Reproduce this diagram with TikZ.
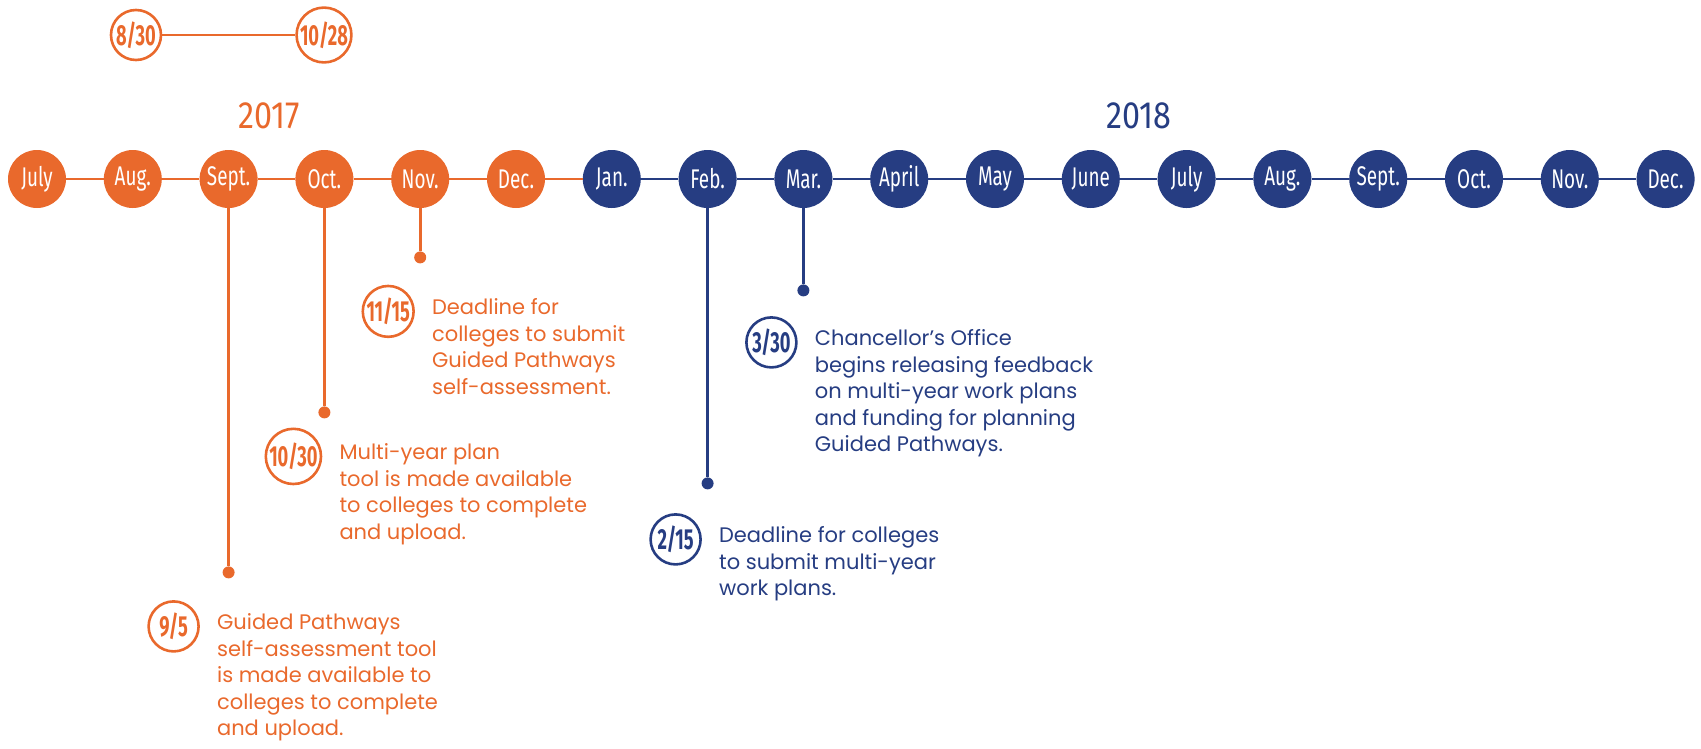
\documentclass[tikz,border=0pt]{standalone}
\usepackage{fontspec}
\setmainfont{Poppins}
\newfontfamily\condfont[FakeStretch=0.7]{Fira Sans}
\newfontfamily\yearfont[FakeStretch=0.85]{Fira Sans}
\newfontfamily\datefont[FakeStretch=0.63]{Fira Sans}
\usetikzlibrary{positioning}

\definecolor{cccorange}{RGB}{233,105,44}
\definecolor{cccblue}{RGB}{38,61,130}

\tikzset{
  month/.style={circle, fill=#1, minimum size=58pt, inner sep=0pt, text=white,
    font=\condfont\fontsize{27}{27}\selectfont},
  datering/.style={circle, draw=#1, line width=2.6pt, minimum size=50pt, inner sep=0pt,
    text=#1, font=\datefont\bfseries\fontsize{29}{29}\selectfont},
  stemdot/.style={circle, fill=#1, minimum size=12pt, inner sep=0pt},
  note/.style={text=#1, align=left, inner sep=0pt, font=\fontsize{21}{26.5}\selectfont},
  link/.style={draw=#1, line width=2.6pt},
  year/.style={text=#1, font=\yearfont\fontsize{38}{38}\selectfont}
}

\begin{document}
\begin{tikzpicture}[x=1pt,y=-1pt]
  \useasboundingbox (0,0) rectangle (1701,748);

  % Months of 2017 and 2018
  \foreach \m [count=\i from 0] in {July,Aug.,Sept.,Oct.,Nov.,Dec.}
    \node[month=cccorange] (m\i) at ({37+95.8*\i},179) {\m};
  \foreach \m [count=\i from 6] in {Jan.,Feb.,Mar.,April,May,June,July,Aug.,Sept.,Oct.,Nov.,Dec.}
    \node[month=cccblue] (m\i) at ({37+95.8*\i},179) {\m};

  % Line joining the months
  \foreach \i in {0,...,5}{
    \pgfmathtruncatemacro\j{\i+1}
    \draw[link=cccorange] (m\i) -- (m\j);
  }
  \foreach \i in {6,...,16}{
    \pgfmathtruncatemacro\j{\i+1}
    \draw[link=cccblue] (m\i) -- (m\j);
  }

  % Years
  \node[year=cccorange] (y2017) at (269,116) {2017};
  \node[year=cccblue] (y2018) at (1139,116) {2018};

  % Range on top
  \node[datering=cccorange] (d830) at (136,35) {8/30};
  \node[datering=cccorange] (d1028) at (324,35) {10/28};
  \draw[link=cccorange, line width=1.6pt] (d830) -- (d1028);

  % Sept. -- 9/5
  \node[stemdot=cccorange, below=358pt of m2] (p95) {};
  \draw[link=cccorange] (m2) -- (p95);
  \node[datering=cccorange] (d95) at ([shift={(-55pt,-54pt)}]p95.center) {9/5};
  \node[note=cccorange, below right=-13pt and 17pt of d95.east] (t95)
    {Guided Pathways\\self-assessment tool\\is made available to\\colleges to complete\\and upload.};

  % Oct. -- 10/30
  \node[stemdot=cccorange, below=198pt of m3] (p1030) {};
  \draw[link=cccorange] (m3) -- (p1030);
  \node[datering=cccorange] (d1030) at ([shift={(-31pt,-44pt)}]p1030.center) {10/30};
  \node[note=cccorange, below right=-13pt and 17pt of d1030.east] (t1030)
    {Multi-year plan\\tool is made available\\to colleges to complete\\and upload.};

  % Nov. -- 11/15
  \node[stemdot=cccorange, below=43pt of m4] (p1115) {};
  \draw[link=cccorange] (m4) -- (p1115);
  \node[datering=cccorange] (d1115) at ([shift={(-32pt,-54pt)}]p1115.center) {11/15};
  \node[note=cccorange, below right=-13pt and 17pt of d1115.east] (t1115)
    {Deadline for\\colleges to submit\\Guided Pathways\\self-assessment.};

  % Feb. -- 2/15
  \node[stemdot=cccblue, below=269pt of m7] (p215) {};
  \draw[link=cccblue] (m7) -- (p215);
  \node[datering=cccblue] (d215) at ([shift={(-32pt,-56pt)}]p215.center) {2/15};
  \node[note=cccblue, below right=-13pt and 17pt of d215.east] (t215)
    {Deadline for colleges\\to submit multi-year\\work plans.};

  % Mar. -- 3/30
  \node[stemdot=cccblue, below=76pt of m8] (p330) {};
  \draw[link=cccblue] (m8) -- (p330);
  \node[datering=cccblue] (d330) at ([shift={(-32pt,-52pt)}]p330.center) {3/30};
  \node[note=cccblue, below right=-13pt and 17pt of d330.east] (t330)
    {Chancellor’s Office\\begins releasing feedback\\on multi-year work plans\\and funding for planning\\Guided Pathways.};
\end{tikzpicture}
\end{document}
